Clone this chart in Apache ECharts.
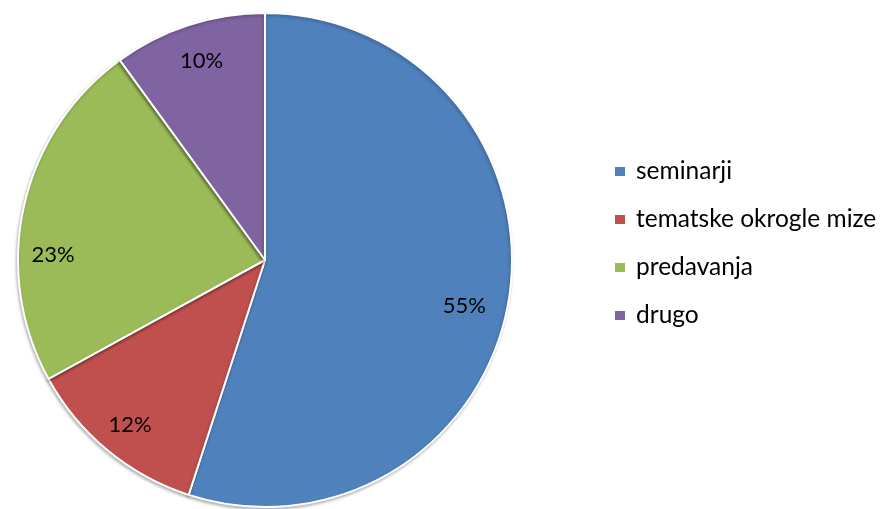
<!DOCTYPE html>
<html>
<head>
<meta charset="utf-8">
<script src="https://cdn.jsdelivr.net/npm/echarts@6/dist/echarts.min.js"></script>
<style>html,body{margin:0;padding:0;background:#fff;}#c{width:882px;height:509px;}</style>
</head>
<body>
<div id="c"></div>
<script>
const categories = ['seminarji', 'tematske okrogle mize', 'predavanja', 'drugo'];
const values = [55, 12, 23, 10];
const colors = ['#4F81BD', '#C0504D', '#9BBB59', '#8064A2'];
const labelOffsets = [[-13, 12], [2, -1], [-2, 42], [3, 5]];

const data = categories.map((n, i) => ({ name: n, value: values[i], itemStyle: { color: colors[i] } }));
const chart = echarts.init(document.getElementById('c'));
chart.setOption({
  animation: false,
  legend: {
    orient: 'vertical', left: 613, top: 159, padding: 0,
    itemWidth: 12, itemHeight: 11, itemGap: 23, icon: 'rect',
    textStyle: { fontFamily: 'Lato', fontSize: 24.5, color: '#000', lineHeight: 25, padding: [0, 0, 0, 5] },
    data: categories
  },
  series: [
    {
      type: 'pie', center: [265, 260], radius: [0, 247], startAngle: 90, clockwise: true,
      silent: true, label: { show: false }, labelLine: { show: false },
      itemStyle: { borderColor: '#fff', borderWidth: 2, shadowColor: 'rgba(0,0,0,0.25)', shadowBlur: 3, shadowOffsetX: -1, shadowOffsetY: 2 },
      data: data
    },
    {
      type: 'pie', center: [265, 260], radius: [177, 247], startAngle: 90, clockwise: true,
      silent: true, legendHoverLink: false,
      itemStyle: { color: 'transparent' },
      label: { show: true, position: 'inside', formatter: '{c}%', fontFamily: 'Lato', fontSize: 22, color: '#000' },
      labelLine: { show: false },
      data: categories.map((n, i) => ({ name: n, value: values[i], itemStyle: { color: 'transparent' }, label: { offset: labelOffsets[i] } }))
    }
  ]
});
</script>
</body>
</html>
